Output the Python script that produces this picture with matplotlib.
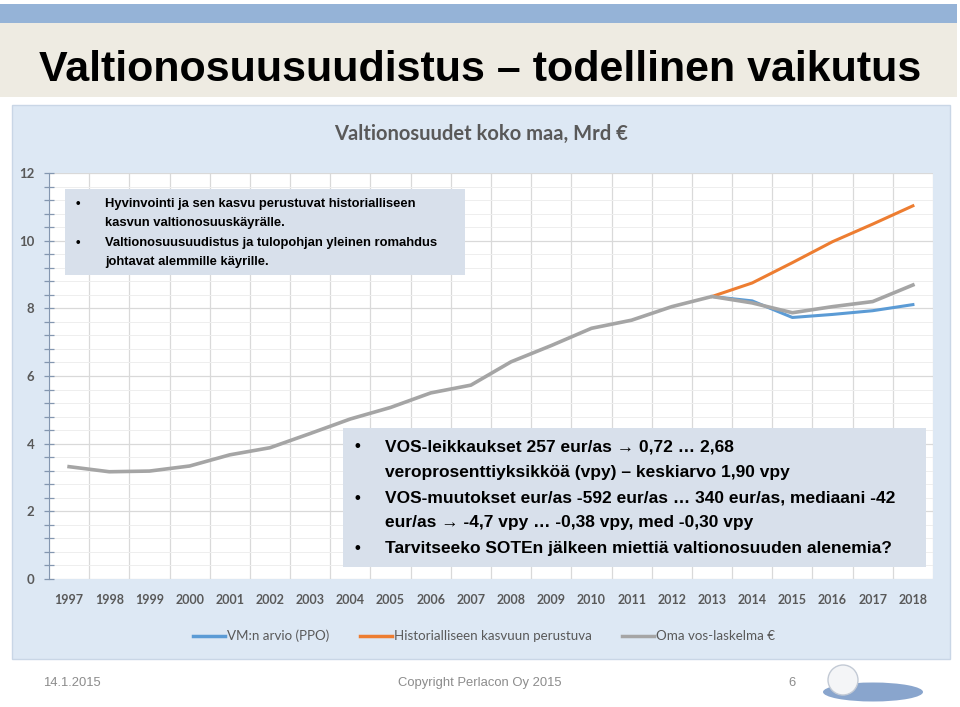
import numpy as np
import matplotlib

matplotlib.use("Agg")
import matplotlib.pyplot as plt
from matplotlib.lines import Line2D
from matplotlib.patches import Circle, Ellipse, Rectangle

W, H = 960, 707
nan = np.nan

# data (Mrd €)
years = [str(y) for y in range(1997, 2019)]
oma = [3.32, 3.17, 3.19, 3.34, 3.67, 3.88, 4.30, 4.73, 5.07, 5.50, 5.73,
       6.42, 6.90, 7.41, 7.65, 8.05, 8.35, 8.16, 7.87, 8.05, 8.20, 8.69]
vm = [nan] * 16 + [8.35, 8.22, 7.73, 7.82, 7.93, 8.11]
hist = [nan] * 16 + [8.35, 8.75, 9.35, 9.97, 10.49, 11.03]
labels = ["VM:n arvio (PPO)", "Historialliseen kasvuun perustuva", "Oma vos-laskelma €"]

box1 = [
    "Hyvinvointi ja sen kasvu perustuvat historialliseen",
    "kasvun valtionosuuskäyrälle.",
    "Valtionosuusuudistus ja tulopohjan yleinen romahdus",
    "johtavat alemmille käyrille.",
]
box2 = [
    "VOS-leikkaukset 257 eur/as → 0,72 … 2,68",
    "veroprosenttiyksikköä (vpy) – keskiarvo 1,90 vpy",
    "VOS-muutokset eur/as -592 eur/as … 340 eur/as, mediaani -42",
    "eur/as → -4,7 vpy … -0,38 vpy, med -0,30 vpy",
    "Tarvitseeko SOTEn jälkeen miettiä valtionosuuden alenemia?",
]

BLUE = "#5b9bd5"
ORANGE = "#ed7d31"
GRAY = "#a5a5a5"
LBL = "#595959"
SANS = ["Liberation Sans", "DejaVu Sans"]
CAL = ["Lato", "DejaVu Sans"]

fig = plt.figure(figsize=(W / 100, H / 100), dpi=100)
fig.patch.set_facecolor("white")

# slide background, pixel coords
bg = fig.add_axes([0, 0, 1, 1], zorder=0)
bg.set_xlim(0, W)
bg.set_ylim(H, 0)
bg.axis("off")
bg.add_patch(Rectangle((0, 4), 957, 19, facecolor="#95b3d7", edgecolor="none"))
bg.add_patch(Rectangle((0, 23), 957, 74, facecolor="#eeebe2", edgecolor="none"))
bg.add_patch(Rectangle((12, 105), 938, 554, facecolor="#dde8f4", edgecolor="#c9d6e6", lw=1))
bg.text(480.5, 81, "Valtionosuusuudistus – todellinen vaikutus", ha="center", va="baseline",
        fontsize=31, weight="bold", family=SANS, color="black")
bg.text(481, 134, "Valtionosuudet koko maa, Mrd €", ha="center", va="center",
        fontsize=14.5, weight="bold", family=CAL, color=LBL)

# footer
bg.text(72, 683, "14.1.2015", ha="center", va="center", fontsize=9.4, family=SANS, color="#8c8c8c")
bg.text(480, 683, "Copyright Perlacon Oy 2015", ha="center", va="center", fontsize=9.4, family=SANS, color="#8c8c8c")
bg.text(792, 683, "6", ha="center", va="center", fontsize=9.4, family=SANS, color="#8c8c8c")
bg.add_patch(Ellipse((873, 692), 100, 19, facecolor="#89a5cd", edgecolor="none"))
bg.add_patch(Circle((843, 680), 15, facecolor="#f4f5f7", edgecolor="#c3cad5", lw=1))

# chart
ax = fig.add_axes([49 / W, 1 - 579 / H, 884 / W, 406 / H], zorder=1)
ax.set_facecolor("white")
x = np.arange(len(years))
ax.plot(x, vm, color=BLUE, lw=2.2, zorder=3)
ax.plot(x, hist, color=ORANGE, lw=2.2, zorder=3)
ax.plot(x, oma, color=GRAY, lw=2.6, zorder=4)
ax.set_xlim(-0.5, len(years) - 0.5)
ax.set_ylim(0, 12)
ax.set_xticks(x)
ax.set_xticklabels(years)
ax.set_xticks(np.arange(-0.5, len(years), 1), minor=True)
ax.set_yticks(np.arange(0, 13, 2))
ax.set_yticks(np.arange(0, 12.01, 0.4), minor=True)
ax.grid(which="major", axis="y", color="#d9d9d9", lw=0.9)
ax.grid(which="minor", axis="y", color="#eeeeee", lw=0.7)
ax.grid(which="minor", axis="x", color="#d9d9d9", lw=0.9)
ax.set_axisbelow(True)
for s in ("top", "right", "bottom"):
    ax.spines[s].set_visible(False)
ax.spines["left"].set_color("#8497b0")
ax.tick_params(axis="x", which="both", length=0, pad=11, labelsize=9, labelcolor=LBL)
ax.tick_params(axis="y", which="both", direction="inout", length=7, color="#8497b0", width=0.9)
ax.tick_params(axis="y", which="major", pad=7, labelsize=9.5, labelcolor=LBL)
for t in ax.get_xticklabels() + ax.get_yticklabels():
    t.set_family(CAL)
    t.set_weight("bold")

handles = [Line2D([], [], color=c, lw=2.5) for c in (BLUE, ORANGE, GRAY)]
leg = fig.legend(handles, labels, loc="center", bbox_to_anchor=(484 / W, 1 - 636 / H), ncol=3,
                 frameon=False, handlelength=2.4, handletextpad=0.15, columnspacing=2.3,
                 prop={"family": CAL, "size": 9.6})
for t in leg.get_texts():
    t.set_color(LBL)

# text boxes over the chart
top = fig.add_axes([0, 0, 1, 1], zorder=2)
top.set_xlim(0, W)
top.set_ylim(H, 0)
top.axis("off")
top.patch.set_alpha(0)
top.add_patch(Rectangle((65, 189), 400, 86, facecolor="#d8e0eb", edgecolor="none"))
for i, (yy, line) in enumerate(zip([204, 223, 243, 262], box1)):
    if i in (0, 2):
        top.text(78, yy, "•", ha="center", va="center", fontsize=9.4, family=SANS, weight="bold")
    top.text(105, yy, line, ha="left", va="center", fontsize=9.4, family=SANS, weight="bold")

top.add_patch(Rectangle((343, 428), 583, 139, facecolor="#d8e0eb", edgecolor="none"))
for i, (yy, line) in enumerate(zip([447, 473, 498, 523, 549], box2)):
    if i in (0, 2, 4):
        top.text(357, yy, "•", ha="center", va="center", fontsize=12, family=SANS, weight="bold")
    top.text(385, yy, line, ha="left", va="center", fontsize=12.5, family=SANS, weight="bold")

fig.savefig("out.png", dpi=100)
